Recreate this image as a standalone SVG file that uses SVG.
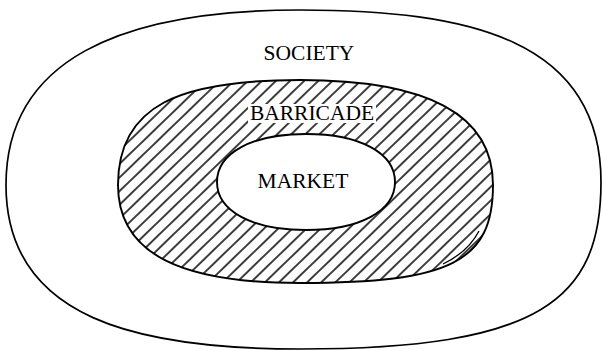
<svg xmlns="http://www.w3.org/2000/svg" width="602" height="350" viewBox="0 0 602 350">
  <style>
    .outline { fill: none; stroke: #000; stroke-width: 1.7; stroke-linejoin: round; }
    .label { font-family: "Liberation Serif", "Times New Roman", serif; font-size: 21.5px; fill: #000; text-anchor: middle; }
  </style>
  <defs>
    <pattern id="hatch" patternUnits="userSpaceOnUse" width="20" height="9.8" patternTransform="rotate(-44)">
      <line x1="-5" y1="4.9" x2="25" y2="4.9" stroke="#000" stroke-width="1.5"/>
    </pattern>
  </defs>
  <rect x="0" y="0" width="602" height="350" fill="#fff"/>
  <g id="society">
    <path class="outline" d="M300,10 C470,10 601,40 601,182 C601,300 540,349 300,349 C140,349 6,320 6,185 C6,60 120,10 300,10 Z"/>
    <text class="label" x="309" y="60">SOCIETY</text>
  </g>
  <g id="barricade">
    <path d="M300,80 C420,80 493,110 493,185 C493,262 450,283 300,283 C185,283 118,256 118,185 C118,105 180,80 300,80 Z" fill="url(#hatch)" stroke="#000" stroke-width="1.9"/>
    <path d="M443,264 Q468,252 479,231" fill="none" stroke="#000" stroke-width="1.3"/>
    <rect x="248" y="104" width="128" height="19" fill="#fff"/>
    <text class="label" x="312" y="120">BARRICADE</text>
  </g>
  <g id="market">
    <path d="M306,134 C360,134 395,153 395,182 C395,211 360,230 306,230 C252,230 217,211 217,182 C217,153 252,134 306,134 Z" fill="#fff" stroke="#000" stroke-width="1.9"/>
    <text class="label" x="303" y="188">MARKET</text>
  </g>
  <g id="connectors"></g>
</svg>
